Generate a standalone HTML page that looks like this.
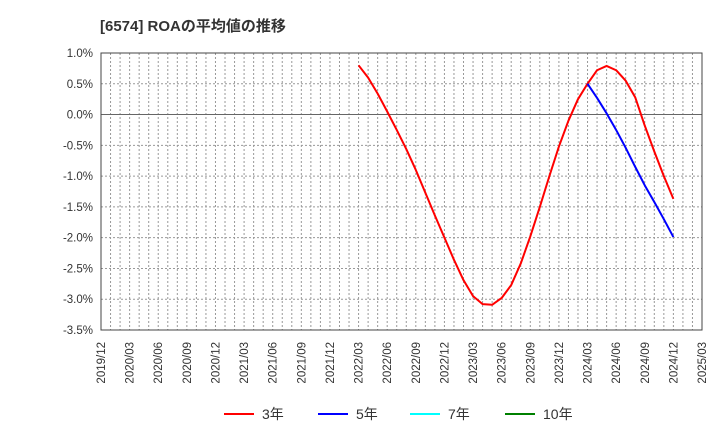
<!DOCTYPE html>
<html><head><meta charset="utf-8"><style>
body{margin:0;background:#fff;}
svg{display:block;font-family:"Liberation Sans","Noto Sans CJK JP",sans-serif;}
</style></head><body>
<svg id="c" width="720" height="440">
<text x="100" y="31" font-size="15" font-weight="bold" fill="#333">[6574]  ROAの平均値の推移</text>
<g id="grid"></g><g id="axes"></g><g id="series"></g>
<g>
<line x1="224" y1="414" x2="254" y2="414" stroke="#ff0000" stroke-width="2"/><text x="262" y="419" font-size="14" fill="#333">3年</text>
<line x1="318" y1="414" x2="348" y2="414" stroke="#0000ff" stroke-width="2"/><text x="356" y="419" font-size="14" fill="#333">5年</text>
<line x1="410" y1="414" x2="440" y2="414" stroke="#00ffff" stroke-width="2"/><text x="448" y="419" font-size="14" fill="#333">7年</text>
<line x1="505" y1="414" x2="535" y2="414" stroke="#008000" stroke-width="2"/><text x="543" y="419" font-size="14" fill="#333">10年</text>
</g>
</svg>
<script>
const yTicks=[1.0,0.5,0.0,-0.5,-1.0,-1.5,-2.0,-2.5,-3.0,-3.5];
const xLabels=["2019/12","2020/03","2020/06","2020/09","2020/12","2021/03","2021/06","2021/09","2021/12","2022/03","2022/06","2022/09","2022/12","2023/03","2023/06","2023/09","2023/12","2024/03","2024/06","2024/09","2024/12","2025/03"];
const red3Start=27;
const red3=[0.80,0.60,0.34,0.05,-0.25,-0.56,-0.90,-1.27,-1.64,-2.00,-2.36,-2.69,-2.95,-3.08,-3.09,-2.98,-2.77,-2.42,-1.98,-1.50,-1.00,-0.52,-0.10,0.25,0.50,0.72,0.79,0.72,0.55,0.28,-0.18,-0.60,-1.00,-1.37];
const blue5Start=51;
const blue5=[0.50,0.27,0.02,-0.25,-0.54,-0.85,-1.15,-1.42,-1.70,-1.99];
const L=101,R=702,T=53,B=330,NM=63,YMAX=1.0,YMIN=-3.5;
const xs=m=>L+(R-L)*m/NM, ys=v=>T+(B-T)*(YMAX-v)/(YMAX-YMIN);
const NS="http://www.w3.org/2000/svg";
function mk(t,a,p){const e=document.createElementNS(NS,t);for(const k in a)e.setAttribute(k,a[k]);p.appendChild(e);return e;}
const g=document.getElementById('grid'),ax=document.getElementById('axes'),s=document.getElementById('series');
for(let m=1;m<NM;m++){const l=mk('line',{x1:xs(m),x2:xs(m),y1:T,y2:B,stroke:'#999','stroke-dasharray':'2,2','stroke-width':1},g);

}
yTicks.forEach(v=>{const y=ys(v);
const l=mk('line',{x1:L,x2:R,y1:y,y2:y,stroke:v===0?'#666':'#999','stroke-dasharray':v===0?'':'2,2','stroke-width':1},g);


const t=mk('text',{x:L-8,y:y+4,'text-anchor':'end','font-size':11.5,fill:'#333'},ax);t.textContent=v.toFixed(1)+'%';

});
const f=mk('rect',{x:L,y:T,width:R-L,height:B-T,fill:'none',stroke:'#444','stroke-width':1},ax);


xLabels.forEach((lb,i)=>{const x=xs(i*3);const t=mk('text',{x:0,y:0,transform:`translate(${x+4},342) rotate(-90)`,'text-anchor':'end','font-size':11.5,fill:'#333'},ax);t.textContent=lb;

});
function line(d,st,c,n){const p=mk('polyline',{points:d.map((v,i)=>xs(st+i)+','+ys(v)).join(' '),fill:'none',stroke:c,'stroke-width':2,'stroke-linejoin':'round'},s);

}
line(red3,red3Start,'#ff0000','series-3yr');
line(blue5,blue5Start,'#0000ff','series-5yr');
</script>
</body></html>
